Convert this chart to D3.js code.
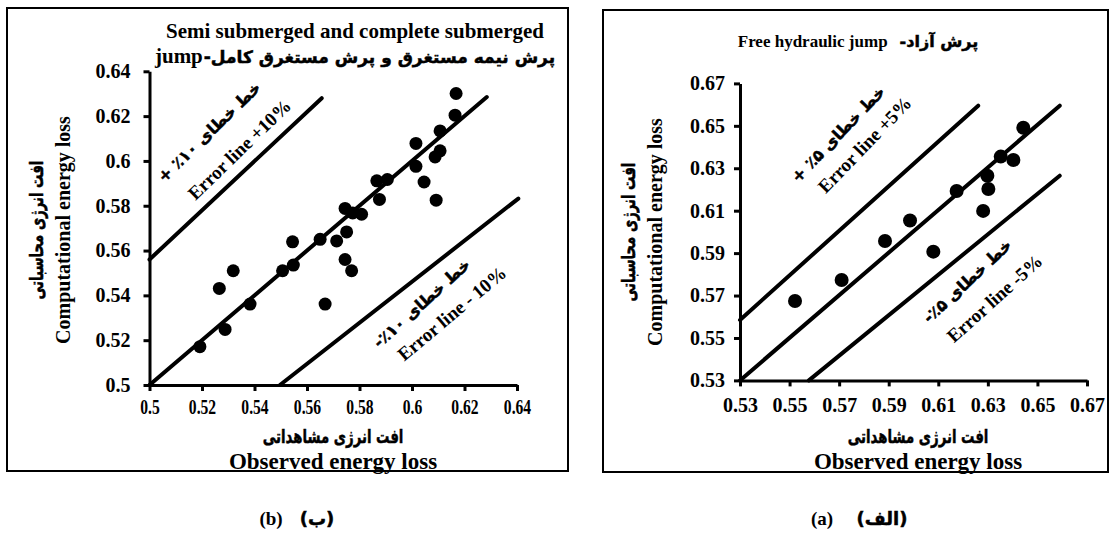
<!DOCTYPE html>
<html><head><meta charset="utf-8">
<script src="https://cdn.jsdelivr.net/npm/d3@7"></script>
<style>
body{margin:0;background:#fff;}
svg{display:block;}
</style></head>
<body>
<svg id="c" width="1112" height="536"></svg>
<script>
// ---- data ----
// panel (b): semi submerged and complete submerged jump
const ticksB = [0.5, 0.52, 0.54, 0.56, 0.58, 0.6, 0.62, 0.64];
const tickLabelsB = ["0.5", "0.52", "0.54", "0.56", "0.58", "0.6", "0.62", "0.64"];
const observedB = [0.5192, 0.5266, 0.5288, 0.5319, 0.5383, 0.5507, 0.5545, 0.5548, 0.5650, 0.5669,
  0.5713, 0.5745, 0.5751, 0.5745, 0.5770, 0.5774, 0.5808, 0.5866, 0.5876, 0.5906,
  0.6015, 0.6015, 0.6046, 0.6088, 0.6092, 0.6107, 0.6107, 0.6164, 0.6168];
const computedB = [0.5171, 0.5431, 0.5248, 0.5510, 0.5361, 0.5510, 0.5639, 0.5535, 0.5650, 0.5361,
  0.5643, 0.5788, 0.5683, 0.5560, 0.5510, 0.5768, 0.5762, 0.5911, 0.5828, 0.5917,
  0.6078, 0.5976, 0.5906, 0.6018, 0.5825, 0.6045, 0.6134, 0.6204, 0.6301];
const perfectB = [[0.5, 0.5], [0.6285, 0.6285]];
const plusB = [[0.5, 0.556], [0.5656, 0.628]];
const minusB = [[0.5497, 0.5], [0.6405, 0.5832]];

// panel (a): free hydraulic jump
const ticksA = [0.53, 0.55, 0.57, 0.59, 0.61, 0.63, 0.65, 0.67];
const tickLabelsA = ["0.53", "0.55", "0.57", "0.59", "0.61", "0.63", "0.65", "0.67"];
const observedA = [0.5522, 0.5710, 0.5885, 0.5986, 0.6080, 0.6174, 0.6281, 0.6302, 0.6298, 0.6352, 0.6403, 0.6443];
const computedA = [0.5674, 0.5773, 0.5957, 0.6054, 0.5907, 0.6193, 0.6099, 0.6202, 0.6265, 0.6355, 0.6339, 0.6491];
const perfectA = [[0.53, 0.53], [0.659, 0.6595]];
const plusA = [[0.53, 0.5585], [0.6261, 0.6595]];
const minusA = [[0.5578, 0.53], [0.659, 0.6265]];

const EN = '"Liberation Serif","Times New Roman",serif';
const FA = '"DejaVu Sans",sans-serif';

const svg = d3.select("#c");

function styleText(sel, fa, fs) {
  sel.style("font-family", fa ? FA : EN).style("font-weight", "bold")
    .style("font-size", fs + "px").style("fill", "#000");
  if (fa) sel.style("stroke", "#000").style("stroke-width", "0.5px");
  return sel;
}

// frames
svg.append("rect").attr("x", 7).attr("y", 8).attr("width", 561).attr("height", 463)
  .attr("fill", "none").attr("stroke", "#000").attr("stroke-width", 2);
svg.append("rect").attr("x", 603).attr("y", 10).attr("width", 505).attr("height", 462)
  .attr("fill", "none").attr("stroke", "#000").attr("stroke-width", 2);

function panel(cfg) {
  const x = d3.scaleLinear().domain(cfg.domain).range(cfg.xr);
  const y = d3.scaleLinear().domain(cfg.domain).range(cfg.yr);
  const g = svg.append("g");

  const line = d3.line().x(d => x(d[0])).y(d => y(d[1]));
  [cfg.perfect, cfg.plus, cfg.minus].forEach(l => {
    g.append("path").attr("d", line(l)).attr("fill", "none")
      .attr("stroke", "#000").attr("stroke-width", 4).attr("stroke-linecap", "round");
  });

  g.selectAll("circle.p").data(cfg.obs).enter().append("circle")
    .attr("cx", d => x(d)).attr("cy", (d, i) => y(cfg.comp[i])).attr("r", cfg.r).attr("fill", "#000");

  const xa = g.append("g").attr("transform", `translate(0,${cfg.yr[0]})`)
    .call(d3.axisBottom(x).tickValues(cfg.ticks).tickFormat((d, i) => cfg.labels[i])
      .tickSize(6).tickSizeOuter(0).tickPadding(cfg.xpad));
  const ya = g.append("g").attr("transform", `translate(${cfg.xr[0]},0)`)
    .call(d3.axisLeft(y).tickValues(cfg.ticks).tickFormat((d, i) => cfg.labels[i])
      .tickSize(6).tickSizeOuter(0).tickPadding(cfg.ypad));
  [xa, ya].forEach(a => {
    a.select(".domain").attr("stroke", "#000").attr("stroke-width", 3);
    a.selectAll(".tick line").attr("stroke", "#000").attr("stroke-width", 3);
  });
  styleText(xa.selectAll(".tick text"), false, cfg.xtickFs);
  styleText(ya.selectAll(".tick text"), false, cfg.ytickFs);
  if (cfg.xsq) xa.selectAll(".tick text").attr("transform", `scale(${cfg.xsq},1)`);

  cfg.notes.forEach(n => {
    styleText(g.append("text"), n.fa, n.fs)
      .attr("direction", n.fa ? "rtl" : "ltr")
      .attr("text-anchor", "middle").attr("dominant-baseline", "middle")
      .attr("transform", `translate(${x(n.at[0])},${y(n.at[1])}) rotate(${n.rot})`)
      .text(n.t);
  });
  return {x, y};
}

panel({
  domain: [0.5, 0.64], xr: [149.5, 517], yr: [385, 71.3],
  ticks: ticksB, labels: tickLabelsB, obs: observedB, comp: computedB,
  perfect: perfectB, plus: plusB, minus: minusB, r: 6.5,
  xpad: 9, ypad: 13, xtickFs: 20, ytickFs: 20, xsq: 0.78,
  notes: [
    {t: "خط خطای ۱۰٪ +", at: [0.523, 0.6126], rot: -44, fa: true, fs: 16},
    {t: "Error line +10%", at: [0.5348, 0.6044], rot: -44, fs: 19},
    {t: "خط خطای ۱۰٪-", at: [0.604, 0.5361], rot: -42, fa: true, fs: 16},
    {t: "Error line - 10%", at: [0.6157, 0.5312], rot: -40, fs: 19}
  ]
});

panel({
  domain: [0.53, 0.67], xr: [740, 1087], yr: [380.4, 83.4],
  ticks: ticksA, labels: tickLabelsA, obs: observedA, comp: computedA,
  perfect: perfectA, plus: plusA, minus: minusA, r: 7,
  xpad: 11, ypad: 9, xtickFs: 20, ytickFs: 20, xsq: null,
  notes: [
    {t: "خط خطای ۵٪ +", at: [0.5699, 0.6457], rot: -46, fa: true, fs: 16},
    {t: "Error line +5%", at: [0.5809, 0.6404], rot: -46, fs: 19},
    {t: "خط خطای ۵٪-", at: [0.622, 0.5764], rot: -43, fa: true, fs: 16},
    {t: "Error line -5%", at: [0.6333, 0.5679], rot: -42, fs: 19}
  ]
});

function txt(t, xx, yy, fs, fa, rot, sx) {
  const e = styleText(svg.append("text"), fa, fs)
    .attr("text-anchor", "middle").attr("direction", fa ? "rtl" : "ltr")
    .attr("transform", `translate(${xx},${yy})` + (rot ? ` rotate(${rot})` : "") + (sx ? ` scale(${sx},1)` : ""));
  e.text(t);
  return e;
}
function mixed(en, fa, cx, yy, fsEn, fsFa, gap) {
  const a = styleText(svg.append("text"), false, fsEn).attr("text-anchor", "start").text(en);
  const b = styleText(svg.append("text"), true, fsFa).attr("text-anchor", "middle")
    .attr("direction", "rtl").text(fa);
  const wa = a.node().getComputedTextLength();
  const wb = b.node().getComputedTextLength();
  const left = cx - (wa + gap + wb) / 2;
  a.attr("x", left).attr("y", yy);
  b.attr("x", left + wa + gap + wb / 2).attr("y", yy);
}

// titles
txt("Semi submerged and complete submerged", 355, 38, 21, false);
mixed("jump", "پرش نیمه مستغرق و پرش مستغرق کامل-", 355, 63, 21, 17, 1);
mixed("Free hydraulic jump", "پرش آزاد-", 858, 47, 17, 16, 12);

// y titles
txt("Computational energy loss", 70, 230, 20, false, -90);
txt("افت انرژی محاسباتی", 43, 230, 19, true, -90, 0.7);
txt("Computational energy loss", 662, 232, 20, false, -90);
txt("افت انرژی محاسباتی", 635, 232, 19, true, -90, 0.7);

// x titles
txt("افت انرژی مشاهداتی", 333, 443, 19, true, 0, 0.7);
txt("Observed energy loss", 333, 469, 23, false);
txt("افت انرژی مشاهداتی", 918, 443, 19, true, 0, 0.7);
txt("Observed energy loss", 918, 469, 23, false);

// captions
txt("(b)", 271, 525, 19, false);
txt("(ب)", 317, 525, 18, true);
txt("(a)", 822, 525, 19, false);
txt("(الف)", 882, 525, 18, true);
</script>
</body></html>
